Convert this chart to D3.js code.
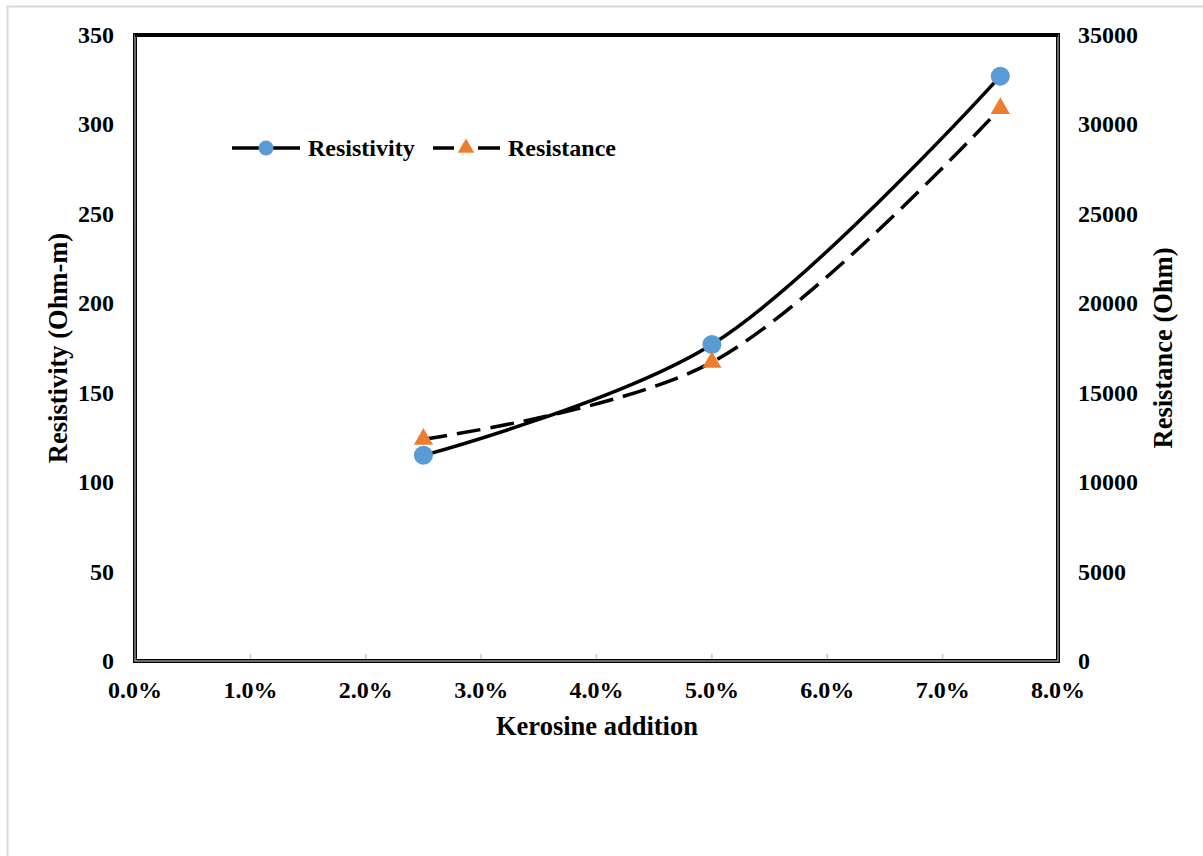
<!DOCTYPE html>
<html><head><meta charset="utf-8">
<script src="https://cdn.jsdelivr.net/npm/d3@7"></script>
<style>body{margin:0;background:#fff}svg{display:block}text{font-family:"Liberation Serif","Times New Roman",serif;font-weight:bold;fill:#000}</style>
</head><body>
<svg id="c" width="1203" height="856"></svg>
<script>
const kerosine = [0.025, 0.05, 0.075];
const resistivity = [115, 177, 327];
const resistance = [12400, 16700, 30900];
const xTicks = [0,0.01,0.02,0.03,0.04,0.05,0.06,0.07,0.08];
const yLeftTicks = [0,50,100,150,200,250,300,350];
const yRightTicks = [0,5000,10000,15000,20000,25000,30000,35000];
const seriesNames = ["Resistivity","Resistance"];

const svg = d3.select("#c");
const L=135, R=1058, T=35, B=661;
const x = d3.scaleLinear().domain([0,0.08]).range([L,R]);
const yL = d3.scaleLinear().domain([0,350]).range([B,T]);
const yR = d3.scaleLinear().domain([0,35000]).range([B,T]);

// outer frame
svg.append("rect").attr("x",7.5).attr("y",6.5).attr("width",1203).attr("height",860)
  .attr("fill","none").attr("stroke","#d9d9d9").attr("stroke-width",2);

// plot border
svg.append("rect").attr("x",L).attr("y",T).attr("width",R-L).attr("height",B-T)
  .attr("fill","none").attr("stroke","#000").attr("stroke-width",4);
svg.append("rect").attr("x",L).attr("y",T).attr("width",R-L).attr("height",B-T)
  .attr("fill","none").attr("stroke","#b0b0b0").attr("stroke-width",1.2);
svg.append("line").attr("x1",L).attr("x2",R).attr("y1",T).attr("y2",T)
  .attr("stroke","#000").attr("stroke-width",4);

// x ticks (inside, gray)
svg.append("g").selectAll("line").data(xTicks.slice(1,-1)).join("line")
  .attr("x1",d=>x(d)).attr("x2",d=>x(d)).attr("y1",B-2).attr("y2",B-7)
  .attr("stroke","#c8c8c8").attr("stroke-width",1.5);

// tick labels
svg.append("g").selectAll("text").data(xTicks).join("text")
  .attr("x",d=>x(d)).attr("y",698).attr("text-anchor","middle").attr("font-size",24)
  .text(d=>d3.format(".1%")(d));
svg.append("g").selectAll("text").data(yLeftTicks).join("text")
  .attr("x",114).attr("y",d=>yL(d)+8).attr("text-anchor","end").attr("font-size",24)
  .text(d=>d);
svg.append("g").selectAll("text").data(yRightTicks).join("text")
  .attr("x",1078).attr("y",d=>yR(d)+8).attr("text-anchor","start").attr("font-size",24)
  .text(d=>d);

// axis titles
svg.append("text").attr("x",597).attr("y",735).attr("text-anchor","middle").attr("font-size",26.5)
  .text("Kerosine addition");
svg.append("text").attr("transform","translate(67,348) rotate(-90)").attr("text-anchor","middle").attr("font-size",26.5)
  .text("Resistivity (Ohm-m)");
svg.append("text").attr("transform","translate(1172,348) rotate(-90)").attr("text-anchor","middle").attr("font-size",26.5)
  .text("Resistance (Ohm)");

// lines
const line1 = d3.line().x((d,i)=>x(kerosine[i])).y(d=>yL(d)).curve(d3.curveCatmullRom.alpha(0.5));
const line2 = d3.line().x((d,i)=>x(kerosine[i])).y(d=>yR(d)).curve(d3.curveCatmullRom.alpha(0.5));
svg.append("path").attr("d",line1(resistivity)).attr("fill","none").attr("stroke","#000").attr("stroke-width",3.5);
svg.append("path").attr("d",line2(resistance)).attr("fill","none").attr("stroke","#000").attr("stroke-width",3.5)
  .attr("stroke-dasharray","24,10");

// markers
svg.append("g").selectAll("circle").data(resistivity).join("circle")
  .attr("cx",(d,i)=>x(kerosine[i])).attr("cy",d=>yL(d)).attr("r",9.5).attr("fill","#5b9bd5");
const tri = d3.symbol().type(d3.symbolTriangle).size(160);
svg.append("g").selectAll("path").data(resistance).join("path")
  .attr("d",tri).attr("transform",(d,i)=>`translate(${x(kerosine[i])},${yR(d)})`).attr("fill","#ed7d31");

// legend
const lg = svg.append("g");
lg.append("line").attr("x1",232).attr("x2",300).attr("y1",148).attr("y2",148).attr("stroke","#000").attr("stroke-width",3.5);
lg.append("circle").attr("cx",266).attr("cy",148).attr("r",7.5).attr("fill","#5b9bd5");
lg.append("text").attr("x",308).attr("y",156).attr("font-size",24).text(seriesNames[0]);
lg.append("line").attr("x1",433).attr("x2",454).attr("y1",148).attr("y2",148).attr("stroke","#000").attr("stroke-width",3.5);
lg.append("line").attr("x1",478).attr("x2",500).attr("y1",148).attr("y2",148).attr("stroke","#000").attr("stroke-width",3.5);
lg.append("path").attr("d",d3.symbol().type(d3.symbolTriangle).size(120)).attr("transform","translate(466,148)").attr("fill","#ed7d31");
lg.append("text").attr("x",508).attr("y",156).attr("font-size",24).text(seriesNames[1]);
</script>
</body></html>
